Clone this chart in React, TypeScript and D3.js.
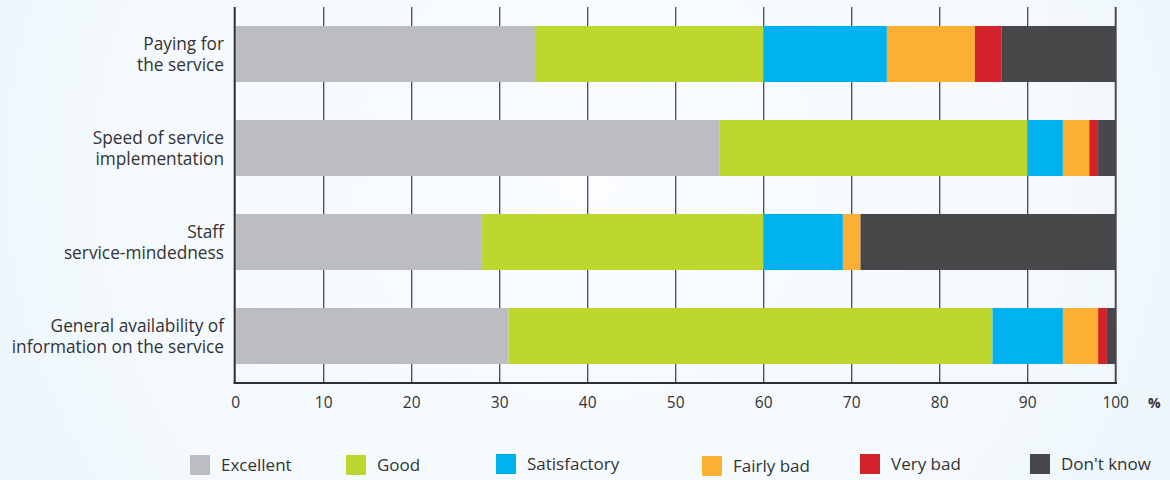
import React from "react";
import * as d3 from "d3";

// Survey categories (top to bottom)
const categories: string[][] = [
  ["Paying for", "the service"],
  ["Speed of service", "implementation"],
  ["Staff", "service-mindedness"],
  ["General availability of", "information on the service"],
];

// Answer groups and their colours
const seriesNames = ["Excellent", "Good", "Satisfactory", "Fairly bad", "Very bad", "Don't know"];
const seriesColors = ["#bcbdc1", "#bed730", "#00b2ef", "#fbb034", "#d2232a", "#474749"];

// Share of answers (%) per category, in series order
const excellent = [34, 55, 28, 31];
const good = [26, 35, 32, 55];
const satisfactory = [14, 4, 9, 8];
const fairlyBad = [10, 3, 2, 4];
const veryBad = [3, 1, 0, 1];
const dontKnow = [13, 2, 29, 1];

const xTicks = [0, 10, 20, 30, 40, 50, 60, 70, 80, 90, 100];

// Legend placement
const legendX = [190, 346, 496, 702, 860, 1030];
const legendY = [455, 455, 454, 456, 454, 454];

const W = 1170;
const H = 480;
const FONT = "'Open Sans', 'Noto Sans', sans-serif";
const TEXT = "#333335";

export default function App() {
  const x = d3.scaleLinear().domain([0, 100]).range([235.7, 1115.7]);
  const y = d3
    .scaleBand<number>()
    .domain(d3.range(categories.length))
    .range([7, 383])
    .paddingInner(0.404)
    .paddingOuter(0.202);

  const rows = categories.map((_, i) => {
    const r: any = { i };
    seriesNames.forEach((s, k) => {
      r[s] = [excellent, good, satisfactory, fairlyBad, veryBad, dontKnow][k][i];
    });
    return r;
  });
  const stacked = d3.stack<any>().keys(seriesNames)(rows);

  const plotTop = 7;
  const plotBottom = 383;

  return (
    <div style={{ position: "absolute", left: 0, top: 0 }}>
      <svg width={W} height={H} style={{ display: "block" }}>
        <defs>
          <radialGradient id="bg" cx="0.5" cy="0.35" r="0.75" gradientTransform="scale(1,2.4) translate(0,-0.2)">
            <stop offset="0" stopColor="#fbfdff" />
            <stop offset="0.55" stopColor="#f3f9fd" />
            <stop offset="1" stopColor="#e4f2fb" />
          </radialGradient>
        </defs>
        <rect width={W} height={H} fill="url(#bg)" />

        {/* vertical grid */}
        {xTicks.slice(1).map((t) => (
          <line
            key={t}
            x1={x(t)}
            x2={x(t)}
            y1={plotTop}
            y2={plotBottom}
            stroke="#4a4a4c"
            strokeWidth={t === 100 ? 2 : 1.3}
          />
        ))}

        {/* stacked bars */}
        {stacked.map((layer, k) => (
          <g key={layer.key} fill={seriesColors[k]}>
            {layer.map((d, i) =>
              d[1] - d[0] > 0 ? (
                <rect
                  key={i}
                  x={x(d[0])}
                  y={y(i)}
                  width={x(d[1]) - x(d[0])}
                  height={y.bandwidth()}
                />
              ) : null
            )}
          </g>
        ))}

        {/* axes */}
        <line x1={234.7} x2={234.7} y1={plotTop} y2={plotBottom + 1} stroke="#2e2e30" strokeWidth={2} />
        <line x1={233.7} x2={1117} y1={plotBottom} y2={plotBottom} stroke="#2e2e30" strokeWidth={2} />

        {/* x tick labels */}
        {xTicks.map((t) => (
          <text
            key={t}
            x={x(t)}
            y={408}
            textAnchor="middle"
            fontFamily={FONT}
            fontSize={15.5}
            fill={TEXT}
          >
            {t}
          </text>
        ))}
        <text x={1148} y={408} fontFamily={FONT} fontSize={14} fontWeight="bold" fill={TEXT}>
          %
        </text>

        {/* category labels */}
        {categories.map((lines, i) => {
          const cy = (y(i) as number) + y.bandwidth() / 2;
          return (
            <text
              key={i}
              x={224}
              textAnchor="end"
              fontFamily={FONT}
              fontSize={17.3}
              fill={TEXT}
            >
              {lines.map((ln, j) => (
                <tspan key={j} x={224} y={cy - 4 + j * 21}>
                  {ln}
                </tspan>
              ))}
            </text>
          );
        })}

        {/* legend */}
        {seriesNames.map((s, k) => (
          <g key={s}>
            <rect x={legendX[k]} y={legendY[k]} width={20} height={20} fill={seriesColors[k]} />
            <text
              x={legendX[k] + 31}
              y={legendY[k] + 16}
              fontFamily={FONT}
              fontSize={17}
              fill={TEXT}
            >
              {s}
            </text>
          </g>
        ))}
      </svg>
    </div>
  );
}
